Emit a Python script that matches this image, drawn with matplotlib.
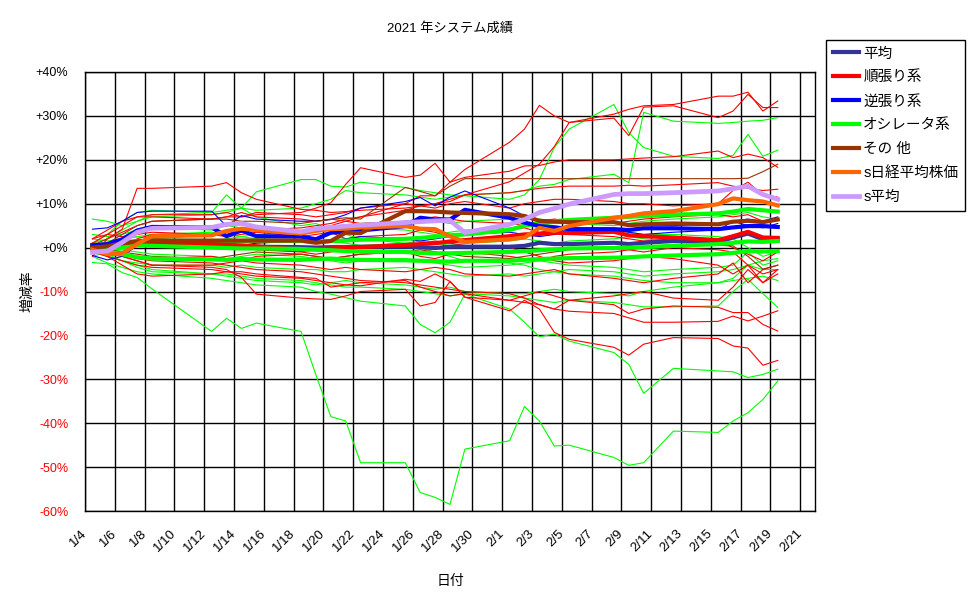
import matplotlib
matplotlib.use('Agg')
import matplotlib.pyplot as plt
import pandas as pd

plt.rcParams['font.family'] = ['Liberation Sans', 'Noto Sans CJK JP', 'DejaVu Sans']

# trading days (index rows: 1/4-1/19, 1/20-2/3, 2/4-2/19)
trade_days = ['1/4', '1/5', '1/6', '1/7', '1/8', '1/12', '1/13', '1/14', '1/15', '1/18', '1/19',
              '1/20', '1/21', '1/22', '1/25', '1/26', '1/27', '1/28', '1/29', '2/1', '2/2', '2/3',
              '2/4', '2/5', '2/8', '2/9', '2/10', '2/12', '2/15', '2/16', '2/17', '2/18', '2/19']

# summary series (%)
heikin = [0.2, 0.3, 0.5, 0.6, 0.6, 0.4, 0.3, 0.3, 0.2, 0.1, 0.0,
          0.1, 0.1, 0.2, 0.2, 0.1, -0.1, 0.2, 0.2, 0.2, 0.4, 1.1,
          0.8, 0.8, 1.1, 0.8, 1.1, 1.5, 1.3, 2.3, 3.2, 1.9, 1.7]
junbari = [0.6, 0.6, 0.8, 1.0, 1.1, 0.8, 0.6, 0.5, 0.3, -0.5, -0.3,
           -0.2, 0.0, 0.1, 0.6, 0.8, 1.0, 1.4, 1.7, 2.6, 3.0, 3.1,
           3.4, 3.3, 3.6, 2.8, 2.6, 2.3, 1.7, 2.6, 3.6, 2.3, 2.2]
gyakubari = [0.5, 0.8, 1.9, 3.9, 4.7, 4.6, 2.6, 3.9, 2.6, 2.5, 1.9,
             3.4, 3.6, 3.9, 4.9, 6.8, 6.4, 6.4, 8.6, 6.8, 5.7, 4.9,
             4.6, 4.2, 4.2, 4.0, 4.4, 4.4, 4.2, 4.6, 4.9, 4.9, 4.7]
oscillator = [-0.4, -0.3, 0.0, 0.5, 0.4, 0.0, -0.1, -0.2, -0.2, -0.3, -0.5,
              -0.6, -0.8, -0.9, -1.0, -1.2, -1.3, -1.3, -1.2, -1.0, -0.8, -0.6,
              -0.4, -0.2, -0.1, 0.0, 0.1, 0.4, 0.8, 1.1, 1.4, 1.3, 1.5]
sonota = [0.0, 0.3, 1.0, 1.4, 1.6, 1.6, 1.6, 1.6, 1.6, 1.6, 1.1,
          1.5, 3.4, 3.3, 8.3, 8.3, 8.2, 8.0, 7.9, 7.6, 7.2, 6.1,
          5.9, 5.8, 5.8, 5.1, 5.3, 5.5, 5.3, 5.9, 6.1, 5.8, 6.4]
s_nikkei = [-0.5, -1.5, -1.3, 0.8, 2.6, 2.8, 3.8, 4.3, 4.0, 3.2, 3.8,
            4.2, 4.3, 4.6, 4.9, 4.3, 4.2, 2.6, 1.3, 1.9, 2.3, 4.5,
            3.8, 4.9, 6.8, 7.2, 7.8, 8.3, 9.9, 11.2, 10.8, 10.5, 9.6]
s_heikin = [-1.1, -0.8, 1.2, 3.5, 4.4, 4.6, 5.3, 5.5, 4.7, 3.6, 4.3,
            4.6, 4.9, 5.1, 5.7, 5.9, 6.1, 6.2, 3.4, 5.3, 6.4, 8.0,
            8.9, 9.9, 12.1, 12.3, 12.3, 12.5, 12.9, 13.4, 14.0, 12.1, 11.0]
osc_sub1 = [-0.5, -1.0, -1.5, -2.2, -2.5, -2.7, -2.8, -2.6, -2.7, -2.8, -2.6,
            -2.5, -2.7, -2.8, -2.9, -3.0, -3.1, -3.2, -3.0, -3.0, -2.8, -2.6,
            -2.5, -2.4, -2.3, -2.2, -2.0, -1.8, -1.5, -1.2, -0.8, -0.9, -0.8]
osc_sub2 = [0.5, 0.8, 1.2, 1.5, 1.6, 1.5, 1.4, 1.5, 1.6, 1.5, 1.4,
            1.5, 1.6, 1.8, 2.0, 2.2, 2.5, 2.8, 3.0, 4.0, 5.0, 5.5,
            6.0, 6.3, 6.8, 7.0, 7.2, 7.5, 7.8, 8.2, 8.8, 8.5, 8.2]

# individual trend systems (red)
r01 = [0.5, 2, 3.5, 5, 6, 6.5, 7, 7, 7.5, 8, 9,
       10.2, 14.4, 18.2, 16, 16.5, 19.2, 14.9, 17.8, 24, 27, 32.4,
       30, 28.5, 30.4, 31.5, 32.3, 32.6, 34.5, 34.5, 35.4, 31.1, 33.4]
r02 = [1, -1, 0, 2, 3, 3, 3.5, 4, 4, 3.5, 4,
       5, 6, 7, 8.5, 9.5, 10, 10.5, 12, 15, 17, 19,
       23, 28.5, 29.5, 25.5, 32, 32.3, 29.6, 31.1, 34.9, 31.9, 31.9]
r03 = [0, -2, -1, 1, 2, 3, 3, 3.5, 4, 4.5, 5,
       5.5, 6.5, 7, 10, 11.8, 11.8, 14.9, 16, 17.4, 18.6, 18.7,
       19.5, 20, 20, 20.2, 20.4, 20.7, 22, 20.5, 21.3, 20.5, 18.3]
r04 = [-2, 2, 4.2, 13.5, 13.5, 14, 14.8, 12.5, 11, 8.7, 8.5,
       8, 8.2, 8.5, 9, 9.5, 10, 11, 12, 12.5, 13, 13.5,
       13.8, 14, 14, 14.2, 14, 14.3, 14.8, 14, 13.5, 13, 13.3]
r05 = [1, 3, 5, 7, 7.5, 7.5, 8, 7, 8, 7.5, 7,
       7.5, 8, 9, 10, 9.5, 9, 10, 10.5, 9, 10, 10.5,
       11, 11, 10.5, 10, 10, 9.5, 10, 13, 14.9, 12, 11.5]
r06 = [2, 3, 2.5, 3, 3.5, 3, 2.5, 3, 3.5, 2.5, 3,
       3.5, 2, 2.5, 3, 4, 3.5, 2.5, 3, 4, 4.5, 3.5,
       4, 3, 2.5, 2, 1.5, 2, 1.5, 0, -1.5, -3, -1]
r07 = [0, -1, -1.5, -2, -2.5, -2, -2.5, -3, -2, -1.5, -2,
       -2.5, -2, -1.5, -1, -2, -2.5, -1.5, -1, -2, -2.5, -3,
       -2, -1.5, -1, -0.5, -1, 0, -0.5, -1, -4, -6, -5]
r08 = [1, -2, -4, -6, -6.5, -6, -5.5, -5.5, -6, -6.8, -7,
       -9, -8.5, -8.7, -7.2, -7.7, -6, -7.7, -11.3, -12, -11, -10,
       -11, -12, -11, -10.5, -10, -11.5, -12, -9, -5, -8, -6]
r09 = [0, -1, -2, -3, -4, -4.5, -5, -6.8, -10.6, -11.5, -11.7,
       -11.8, -11, -10, -9.5, -13.3, -12.5, -7.7, -11.3, -14.4, -12, -14,
       -19.3, -20.9, -22.7, -24.5, -22, -20.5, -20.7, -22.4, -22.9, -26.8, -25.7]
r10 = [-1, -2, -3, -4, -4.5, -5, -5.5, -6, -6.5, -7, -7.5,
       -8, -8.5, -8, -7.5, -9, -10, -11, -10.5, -12, -12.5, -13,
       -14, -12, -13, -15, -14, -13.3, -13.6, -14.8, -14.8, -17.5, -19]
r11 = [0.5, -0.5, -1.5, -2.5, -3, -3.5, -4, -4.5, -5, -5.5, -6,
       -6.5, -7, -7.5, -8, -8.5, -9, -9.5, -10, -10.5, -11.5, -13,
       -14, -14.5, -15, -16, -17, -17, -16.8, -15.6, -16.7, -15.6, -14.4]
r12 = [-0.5, -1.5, -2, -3, -4, -4, -3.5, -3, -3.5, -4, -4.5,
       -5, -4.5, -5, -5.5, -5, -4.5, -5, -6, -6.5, -6, -5.5,
       -5, -6, -7, -7.5, -8, -7, -6, -3.5, -8, -5, -4]
r13 = [-1, 0, 1, 1.5, 1, 1, 0.5, 0, -0.5, -1, -1.5,
       -1, -0.5, 0, 0.5, 1, 1.5, 1, 0.5, 0, -1, -2,
       -3, -3.5, -3, -2.5, -2, -2.5, -4, -6, -4, -8, -5]
r14 = [2, 4, 6, 7, 7, 6.5, 7, 8, 7, 6.5, 6,
       6.5, 6, 5.5, 6, 6.5, 7, 6.5, 6, 5.5, 5, 6,
       6.5, 6, 5.5, 6, 6.5, 7, 7.5, 7, 7.5, 6, 6.5]

# individual oscillator systems (green)
g01 = [-3.4, -3.7, -5.7, -6.8, -9.4, -19.1, -16.1, -18.4, -17.2, -19.1, -29,
       -38.5, -39.5, -49, -49, -55.8, -56.9, -58.5, -45.9, -44, -36.2, -39.5,
       -45.2, -45, -47.8, -49.6, -49, -41.8, -42.1, -39.5, -37.6, -34.6, -30.4]
g02 = [-2, -3.5, -4.5, -5.5, -6, -7, -7.5, -8, -8.5, -9, -10,
       -10.6, -11.4, -12.2, -13.3, -17.5, -19.4, -17, -10.6, -14, -17, -20.3,
       -19.7, -21.3, -23.9, -26.6, -33.2, -27.5, -28.1, -28.3, -29.6, -28.9, -27.7]
g03 = [6.5, 6, 5, 6, 7.5, 8, 12, 9, 12.7, 15.5, 15.5,
       14, 13.8, 14.9, 13.7, 13, 12.5, 12, 11.8, 11, 12, 15.5,
       22.8, 27, 32.6, 26.2, 22.8, 20.8, 20.3, 21, 25.8, 20.8, 22.2]
g04 = [1, 2, 4, 6, 7, 7.5, 8, 9, 8.5, 9, 10,
       11, 13, 12.5, 12, 11.5, 11, 11.5, 12, 12.5, 13, 14,
       14.4, 15.5, 16.7, 14.8, 30.8, 28.8, 28.3, 28.5, 28.8, 29, 29.6]
g05 = [3, 2.5, 3, 4, 4.5, 4, 5, 4.5, 4, 3.5, 4,
       4.5, 5, 4.5, 4, 3.5, 3, 3.5, 4, 4.5, 5, 5.5,
       5, 4.5, 4, 3.5, 3, 3, 2.5, 2, 0, -2, -1]
g06 = [0, -1.5, -3, -3.5, -4, -4, -4.5, -4, -4.5, -5, -5,
       -5.5, -5.5, -5, -4.5, -5, -5.5, -6, -6.5, -6, -6.5, -6,
       -5.5, -5, -5.5, -6, -6.5, -6, -5.5, -5, -4, -5, -5]
g07 = [-1, -2, -3, -4, -5, -6, -6, -6.5, -7, -7.5, -8,
       -8.5, -9, -9, -9.5, -10, -10.5, -11, -10.5, -11, -11.5, -12,
       -12.5, -12, -12.5, -13, -13.5, -13.5, -13.3, -10, -7.2, -10.5, -13.6]
g08 = [2, 1.5, 2, 2.5, 2, 1.5, 2, 2.5, 2, 1.5, 1,
       1.5, 1, 0.5, 1, 1.5, 1, 0.5, 1, 1.5, 2, 1.5,
       1, 1.5, 2, 2.5, 2, 1.5, 2, 2.5, 3, 2.5, 2]
g09 = [-2, -1, -0.5, -1, -1.5, -2, -2.5, -2, -1.5, -2, -2.5,
       -3, -3.5, -3, -2.5, -3, -3.5, -4, -4.5, -4, -3.5, -3,
       -3.5, -4, -4.5, -5, -5.5, -5, -4.5, -4, -1, -4, -3]
g10 = [1, 3, 6, 8, 8.5, 8, 8.5, 9, 7, 5, 5.5,
       4, 3, 2, 1, 0, -1, -2, -3, -3.5, -4, -5,
       -5.5, -6, -6.5, -7, -7.5, -8, -8, -7.5, -7, -6.5, -7.5]
g11 = [0, 1, 2, 2.5, 3, 3.5, 3, 2.5, 3, 3.5, 4,
       4.5, 5, 5.5, 6, 6.5, 6, 5.5, 6, 6.5, 7, 6.5,
       6, 5.5, 5, 5.5, 6, 6.5, 7, 7.5, 8, 7, 6.5]
g12 = [-1, -2, -3, -4.5, -5.5, -6, -6.5, -7, -7.5, -8, -8.5,
       -8, -7.5, -8, -8.5, -9, -9.5, -9, -10, -10.5, -10.5, -10,
       -9.5, -10, -10.5, -11, -10, -9, -8, -7, -4, -3, -2.5]

# individual counter-trend (blue) and other (brown) systems
b01 = [4.2, 4.5, 6, 8, 8.3, 8.3, 4.9, 7.3, 6.5, 6, 6,
       6.4, 7.5, 9, 10.5, 11.4, 9.5, 11.5, 12.9, 9, 7.2, 6,
       6, 6, 5.5, 5.5, 5, 5, 5.5, 6, 6.5, 6, 7]
b02 = [-1.8, -2.8, -2, 0.5, 1, 1.5, 1, 0.5, 1, 1.5, 1,
       1.5, 2, 2.5, 2, 1.5, 2, 2.5, 3, 3.5, 3, 2.5,
       3, 3.5, 4, 3.5, 3, 3.5, 4, 6, 5, 4.5, 5.5]
br01 = [0, 1, 3, 5, 6, 6.5, 6.5, 6, 6, 5.5, 6,
        6.4, 6.8, 6.5, 13.7, 12.8, 11.8, 14, 15.7, 15.7, 15.7, 15.7,
        15.7, 15.7, 15.7, 15.7, 15.7, 15.7, 15.7, 15.7, 15.8, 17.3, 19]
br02 = [0, -0.5, -1, -1.5, -2, -2.5, -2, -1.5, -1, -1.5, -2,
        -2.5, -2, -1.5, -1, -0.5, -1, -1.5, -2, -2.5, -2, -1.5,
        -1, -0.5, 0, -0.5, 0, 0.5, 0.5, 0.4, -2, -4.9, -4]

red_thin = [r01, r02, r03, r04, r05, r06, r07, r08, r09, r10, r11, r12, r13, r14]
green_thin = [g01, g02, g03, g04, g05, g06, g07, g08, g09, g10, g11, g12]
blue_thin = [b01, b02]
brown_thin = [br01, br02]

# points sit in the middle of each day on the date axis
x = pd.to_datetime(['2021/' + d for d in trade_days]) + pd.Timedelta(hours=12)

fig = plt.figure(figsize=(9.7, 6.04), dpi=100)
ax = fig.add_axes([85/970, 93/604, 730/970, 439/604])

for s in green_thin:
    ax.plot(x, s, color='#00FF00', lw=0.8)
for s in red_thin:
    ax.plot(x, s, color='#FF0000', lw=0.8)
for s in blue_thin:
    ax.plot(x, s, color='#0000FF', lw=0.8)
for s in brown_thin:
    ax.plot(x, s, color='#993300', lw=0.8)

ax.plot(x, osc_sub1, color='#00FF00', lw=3)
ax.plot(x, osc_sub2, color='#00FF00', lw=3)

ax.plot(x, heikin, color='#333399', lw=3, label='平均')
ax.plot(x, junbari, color='#FF0000', lw=3, label='順張り系')
ax.plot(x, gyakubari, color='#0000FF', lw=3, label='逆張り系')
ax.plot(x, oscillator, color='#00FF00', lw=3, label='オシレータ系')
ax.plot(x, sonota, color='#993300', lw=3, label='その 他')
ax.plot(x, s_nikkei, color='#FF6600', lw=3, label='s日経平均株価')
ax.plot(x, s_heikin, color='#CC99FF', lw=3.4, label='s平均')

ticks = pd.date_range('2021-01-04', '2021-02-21', freq='2D')
ax.set_xticks(ticks)
ax.set_xticklabels([f'{t.month}/{t.day}' for t in ticks], rotation=45,
                   ha='right', va='center', rotation_mode='anchor', fontsize=9.5)
ax.set_xlim(pd.Timestamp('2021-01-04'), pd.Timestamp('2021-02-22'))

yvals = list(range(-60, 41, 10))
ax.set_ylim(-60, 40)
ax.set_yticks(yvals)
ax.set_yticklabels([f'+{v}%' if v >= 0 else f'-{-v}%' for v in yvals], fontsize=9)
for lab, v in zip(ax.get_yticklabels(), yvals):
    lab.set_color('black' if v >= 0 else '#FF0000')

ax.tick_params(axis='both', length=0)
ax.tick_params(axis='y', pad=12)
ax.tick_params(axis='x', pad=15)
ax.grid(True, color='black', lw=1)
ax.set_axisbelow(True)
for sp in ax.spines.values():
    sp.set_color('black')
    sp.set_linewidth(1)

ax.set_title('2021 年システム成績', fontsize=9.5, y=1.0, pad=29)
ax.set_xlabel('日付', fontsize=10, labelpad=14)
ax.set_ylabel('増減率', fontsize=10, labelpad=1)

leg = fig.legend(loc='upper left', bbox_to_anchor=(826/970, 1 - 40/604), fontsize=10.5,
                 frameon=True, fancybox=False, framealpha=1, edgecolor='black',
                 handlelength=1.8, handletextpad=0.3, labelspacing=0.68, borderpad=0.45,
                 borderaxespad=0)
leg.get_frame().set_linewidth(1)

fig.savefig('out.png', dpi=100)
